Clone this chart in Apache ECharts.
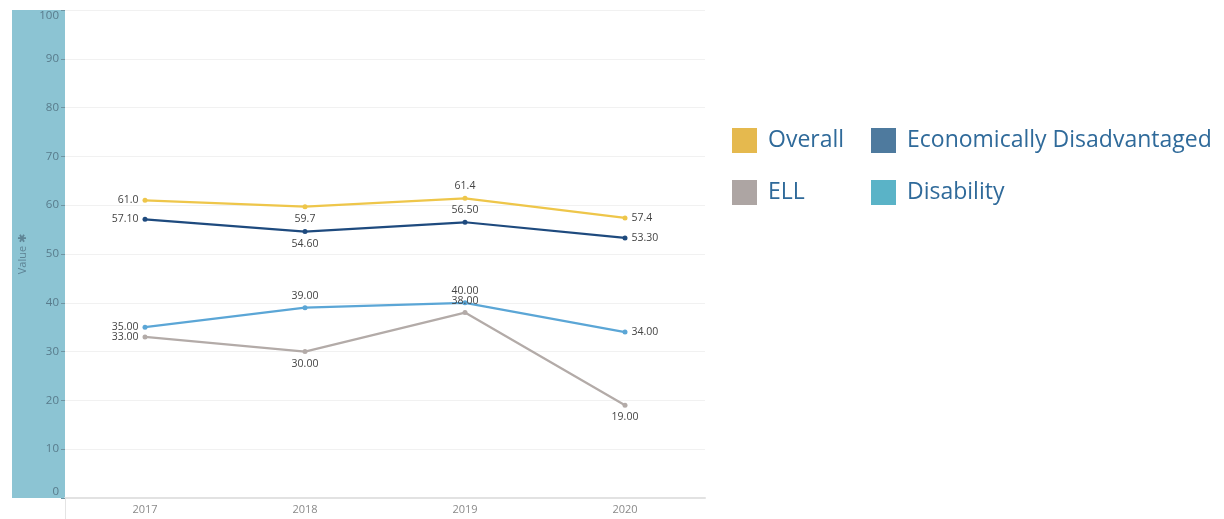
<!DOCTYPE html>
<html>
<head>
<meta charset="utf-8">
<title>Value by Student Group</title>
<script src="https://cdn.jsdelivr.net/npm/echarts@6/dist/echarts.min.js"></script>
<style>
  html, body { margin: 0; padding: 0; background: #ffffff; }
  #chart { width: 1224px; height: 519px; }
</style>
</head>
<body>
<div id="chart"></div>
<script>
// Years on the x axis
const years = ['2017', '2018', '2019', '2020'];

// Values per student group
const overall = [61.0, 59.7, 61.4, 57.4];
const econDisadvantaged = [57.10, 54.60, 56.50, 53.30];
const ell = [33.00, 30.00, 38.00, 19.00];
const disability = [35.00, 39.00, 40.00, 34.00];

// Y axis ticks
const yTicks = [0, 10, 20, 30, 40, 50, 60, 70, 80, 90, 100];

const FONT = '"Open Sans", "DejaVu Sans", sans-serif';

function makeSeries(name, values, decimals, lineColor, placements) {
  return {
    name: name,
    type: 'line',
    data: values.map((v, i) => ({
      value: v,
      label: { position: placements[i] }
    })),
    symbol: 'circle',
    symbolSize: 5,
    lineStyle: { color: lineColor, width: 2.2 },
    itemStyle: { color: lineColor },
    label: {
      show: true,
      distance: 4,
      fontFamily: FONT,
      fontSize: 10.5,
      color: '#444444',
      formatter: p => Number(p.value).toFixed(decimals)
    },
    emphasis: { disabled: true },
    z: 3
  };
}

function legendColumn(left, items) {
  return {
    orient: 'vertical',
    left: left,
    top: 128,
    padding: 0,
    itemWidth: 25,
    itemHeight: 25,
    itemGap: 27,
    icon: 'rect',
    selectedMode: false,
    textStyle: { fontFamily: FONT, fontSize: 23, color: '#2f6a9a', padding: [0, 0, 0, 6] },
    data: items
  };
}

const chart = echarts.init(document.getElementById('chart'), null, { renderer: 'canvas' });

chart.setOption({
  animation: false,
  backgroundColor: '#ffffff',
  graphic: [
    {
      type: 'rect',
      z: -10,
      shape: { x: 12, y: 10, width: 53, height: 488 },
      style: { fill: '#8cc4d3' },
      silent: true
    },
    {
      type: 'line',
      z: -10,
      shape: { x1: 65.5, y1: 498, x2: 65.5, y2: 519 },
      style: { stroke: '#e4e4e4', lineWidth: 1 },
      silent: true
    }
  ],
  grid: { left: 65, right: 519, top: 10, bottom: 21, containLabel: false },
  legend: [
    legendColumn(732, [
      { name: 'Overall', itemStyle: { color: '#e5b94e' } },
      { name: 'ELL', itemStyle: { color: '#ada5a3' } }
    ]),
    legendColumn(871, [
      { name: 'Economically Disadvantaged', itemStyle: { color: '#4e7a9e' } },
      { name: 'Disability', itemStyle: { color: '#5ab3c7' } }
    ])
  ],
  xAxis: {
    type: 'category',
    data: years,
    boundaryGap: true,
    axisLine: { show: true, lineStyle: { color: '#e2e2e2', width: 2 } },
    axisTick: { show: false },
    axisLabel: { fontFamily: FONT, fontSize: 11, color: '#8a8a8a', margin: 6 },
    splitLine: { show: false }
  },
  yAxis: {
    type: 'value',
    min: yTicks[0],
    max: yTicks[yTicks.length - 1],
    interval: yTicks[1] - yTicks[0],
    name: 'Value ✱',
    nameLocation: 'middle',
    nameGap: 32,
    nameRotate: 90,
    nameTextStyle: { fontFamily: FONT, fontSize: 11, color: '#5f8596' },
    axisLine: { show: false },
    axisTick: { show: true, length: 4, lineStyle: { color: '#6f95a3', width: 1 } },
    axisLabel: {
      fontFamily: FONT,
      fontSize: 11.5,
      fontWeight: 500,
      color: '#587b8b',
      margin: 6,
      verticalAlignMinLabel: 'bottom',
      verticalAlignMaxLabel: 'top'
    },
    splitLine: { show: true, lineStyle: { color: '#f1f1f1', width: 1 } }
  },
  series: [
    makeSeries('Overall', overall, 1, '#eec64a', ['left', 'bottom', 'top', 'right']),
    makeSeries('Economically Disadvantaged', econDisadvantaged, 2, '#1e4a7e', ['left', 'bottom', 'top', 'right']),
    makeSeries('ELL', ell, 2, '#b3aba8', ['left', 'bottom', 'top', 'bottom']),
    makeSeries('Disability', disability, 2, '#5ba6d6', ['left', 'top', 'top', 'right'])
  ]
});
</script>
</body>
</html>
